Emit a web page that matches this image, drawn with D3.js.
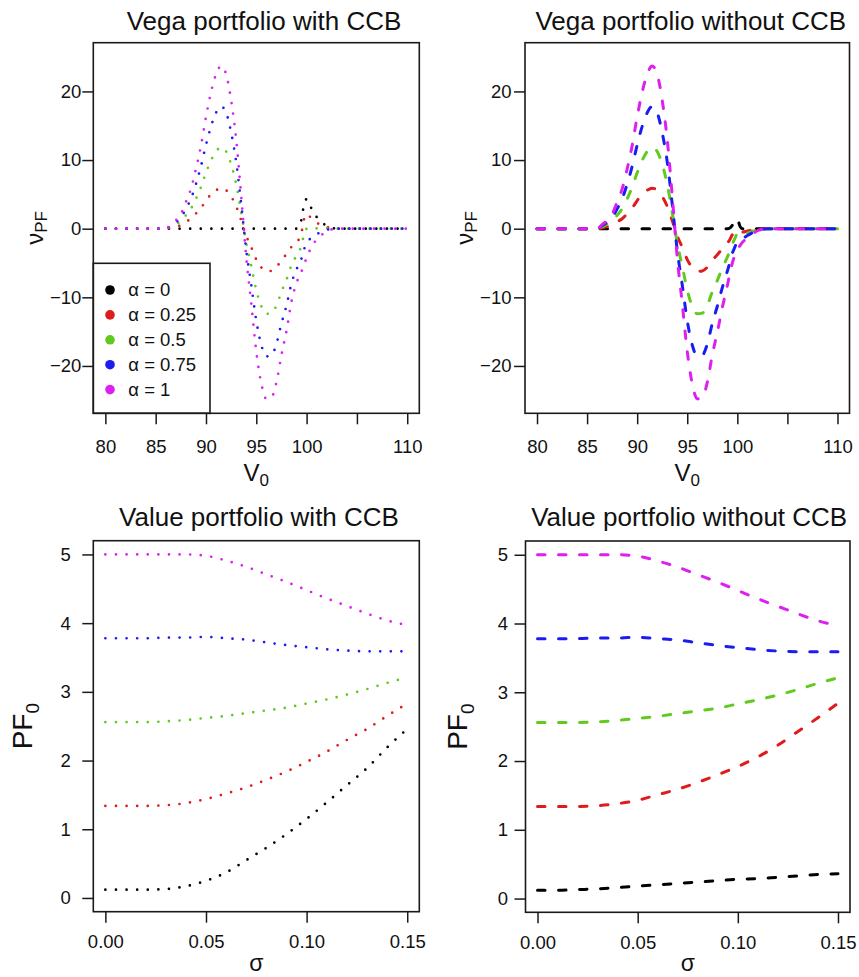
<!DOCTYPE html>
<html>
<head>
<meta charset="utf-8">
<script src="https://cdn.jsdelivr.net/npm/d3@7"></script>
<style>
body{margin:0;background:#fff}
svg{display:block;font-family:"Liberation Sans",Arial,Helvetica,sans-serif}
.box{fill:none;stroke:#1a1a1a;stroke-width:1.6}
.axis line{stroke:#1a1a1a;stroke-width:1.5}
.axis text{font-size:18.5px;fill:#111;font-family:"Liberation Sans",Arial,sans-serif}
.title{font-size:26px;fill:#111}
.label{fill:#111}
</style>
</head>
<body>
<svg id="fig"></svg>
<script>
// ---- data ----
var alphaLabels = ["α = 0","α = 0.25","α = 0.5","α = 0.75","α = 1"]
var seriesColors = ["#000000","#e01b1b","#62c91e","#1c1cf2","#dd1ff0"]

// top row: vega against V0
var vegaV = [80,85,86,86.5,87,87.5,88,88.5,89,89.5,90,90.5,91,91.5,92,92.5,93,93.5,94,94.5,95,95.5,96,96.5,97,97.5,98,98.5,99,
             99.25,99.5,99.75,100,100.25,100.5,101,101.5,102,102.5,103,104,110]

var vegaCCB_a0    = [0,0,0,0,0,0,0,0,0,0,0,0,0,0,0,0,0,0,0,0,0,0,0,0,0,0,0,0,0, 0.3,1.4,3.6,4.3,3.6,2.9,1.7,0.9,0.45,0.15,0,0,0]
var vegaCCB_a025  = [0,0,0,0.15,0.3,0.5,1.0,1.45,2.2,3.0,4.1,5.0,5.6,5.9,5.6,4.7,3.25,1.2,-1.05,-2.7,-4.5,-5.65,-6.2,-6.15,-5.6,-4.6,-3.7,-2.65,-2.0,
                     -1.5,-0.5,1.4,2.15,1.85,1.5,0.9,0.45,0.25,0.1,0,0,0]
var vegaCCB_a05   = [0,0,0,0.3,0.6,1.05,1.95,2.9,4.35,6.05,8.15,9.95,11.25,11.85,11.25,9.35,6.5,2.4,-2.1,-5.45,-8.95,-11.3,-12.4,-12.3,-11.2,-9.2,-7.45,-5.3,-3.95,
                     -3.35,-2.4,-0.8,0,0.1,0.15,0.05,0,0.05,0.03,0,0,0]
var vegaCCB_a075  = [0,0,0,0.45,0.9,1.6,2.9,4.35,6.5,9.1,12.2,14.9,16.9,17.8,16.9,14.0,9.75,3.6,-3.15,-8.2,-13.4,-16.95,-18.6,-18.45,-16.8,-13.8,-11.2,-7.95,-5.9,
                     -5.2,-4.3,-3.0,-2.15,-1.65,-1.2,-0.8,-0.45,-0.15,-0.04,0,0,0]
var vegaCCB_a1    = [0,0,0,0.6,1.2,2.1,3.9,5.8,8.7,12.1,16.3,19.9,22.5,23.7,22.5,18.7,13.0,4.8,-4.2,-10.9,-17.9,-22.6,-24.8,-24.6,-22.4,-18.4,-14.9,-10.6,-7.9,
                     -7.0,-6.2,-5.2,-4.3,-3.4,-2.6,-1.6,-0.9,-0.35,-0.1,0,0,0]

var vegaNoCCB_a0   = [0,0,0,0,0,0,0,0,0,0,0,0,0,0,0,0,0,0,0,0,0,0,0,0,0,0,0,0,0, 0.1,0.5,1.0,1.5,0.4,0,0,0,0,0,0,0,0]
var vegaNoCCB_a025 = [0,0,0,0.15,0.3,0.5,1.0,1.45,2.2,3.0,4.1,5.0,5.6,5.9,5.6,4.7,3.25,1.2,-1.05,-2.7,-4.5,-5.65,-6.2,-6.15,-5.6,-4.6,-3.8,-2.9,-2.1,
                      -1.6,-0.9,-0.6,-0.2,-0.5,-0.5,-0.35,-0.2,-0.08,-0.03,0,0,0]
var vegaNoCCB_a05  = [0,0,0,0.3,0.6,1.05,1.95,2.9,4.35,6.05,8.15,9.95,11.25,11.85,11.25,9.35,6.5,2.4,-2.1,-5.45,-8.95,-11.3,-12.4,-12.3,-11.2,-9.2,-7.55,-5.75,-4.15,
                      -3.25,-2.25,-1.45,-0.75,-1.05,-1.0,-0.68,-0.4,-0.15,-0.05,0,0,0]
var vegaNoCCB_a075 = [0,0,0,0.45,0.9,1.6,2.9,4.35,6.5,9.1,12.2,14.9,16.9,17.8,16.9,14.0,9.75,3.6,-3.15,-8.2,-13.4,-16.95,-18.6,-18.45,-16.8,-13.8,-11.3,-8.6,-6.2,
                      -4.95,-3.6,-2.7,-1.9,-1.8,-1.5,-1.0,-0.6,-0.23,-0.08,0,0,0]
var vegaNoCCB_a1   = [0,0,0,0.6,1.2,2.1,3.9,5.8,8.7,12.1,16.3,19.9,22.5,23.7,22.5,18.7,13.0,4.8,-4.2,-10.9,-17.9,-22.6,-24.8,-24.6,-22.4,-18.4,-15.1,-11.5,-8.3,
                      -6.6,-5.0,-3.9,-3.0,-2.5,-2.0,-1.35,-0.8,-0.3,-0.1,0,0,0]

// bottom row: portfolio value against sigma
var sigma = [0,0.01,0.02,0.03,0.04,0.05,0.06,0.07,0.08,0.09,0.10,0.11,0.12,0.13,0.14,0.15]

var valueCCB_a0   = [0.12,0.12,0.12,0.13,0.17,0.25,0.37,0.55,0.73,0.93,1.15,1.39,1.64,1.89,2.19,2.46]
var valueCCB_a025 = [1.34,1.34,1.34,1.35,1.38,1.44,1.52,1.61,1.72,1.84,1.98,2.13,2.30,2.46,2.65,2.83]
var valueCCB_a05  = [2.56,2.56,2.56,2.57,2.59,2.62,2.65,2.69,2.73,2.77,2.83,2.89,2.96,3.04,3.13,3.21]
var valueCCB_a075 = [3.78,3.78,3.78,3.79,3.79,3.80,3.78,3.76,3.72,3.68,3.65,3.62,3.60,3.59,3.59,3.59]
var valueCCB_a1   = [5.0,5.0,5.0,5.0,5.0,4.98,4.91,4.82,4.71,4.60,4.48,4.36,4.25,4.14,4.04,3.97]

var valueNoCCB_a0   = [0.12,0.12,0.13,0.14,0.16,0.18,0.20,0.22,0.24,0.26,0.28,0.29,0.31,0.33,0.35,0.36]
var valueNoCCB_a025 = [1.34,1.34,1.34,1.35,1.38,1.43,1.51,1.59,1.69,1.80,1.92,2.06,2.23,2.43,2.63,2.84]
var valueNoCCB_a05  = [2.56,2.56,2.56,2.57,2.59,2.62,2.65,2.69,2.73,2.77,2.83,2.89,2.96,3.04,3.13,3.21]
var valueNoCCB_a075 = [3.78,3.78,3.78,3.79,3.79,3.80,3.78,3.76,3.72,3.68,3.65,3.62,3.60,3.59,3.59,3.59]
var valueNoCCB_a1   = [5.0,5.0,5.0,5.0,5.0,4.98,4.91,4.82,4.71,4.60,4.48,4.36,4.25,4.14,4.04,3.97]

// ticks
var vegaXTicks = [80,85,90,95,100,105,110]
var vegaXTickLabels = ["80","85","90","95","100","","110"]
var vegaYTicks = [-20,-10,0,10,20]
var sigmaTicks = [0,0.05,0.10,0.15]
var sigmaTickLabels = ["0.00","0.05","0.10","0.15"]
var valueYTicks = [0,1,2,3,4,5]

var dotted = {width:2.7, dash:"0,10.6"}
var dashed = {width:3, dash:"7.5,13.5"}

var drawPanel = function(svg,p)
{
    var xScale = d3.scaleLinear()
        .domain(p.xDomain)
        .range([p.box.left,p.box.right])
    var yScale = d3.scaleLinear()
        .domain(p.yDomain)
        .range([p.box.bottom,p.box.top])

    var line = d3.line()
        .x(function(d){return xScale(d[0])})
        .y(function(d){return yScale(d[1])})
        .curve(d3.curveMonotoneX)

    var g = svg.append("g")

    g.selectAll("path.series")
    .data(p.series)
    .enter()
    .append("path")
    .attr("class","series")
    .attr("d",function(s)
         {
        return line(p.x.map(function(v,i){return [v,s[i]]}))
    })
    .attr("fill","none")
    .attr("stroke",function(s,i){return seriesColors[i]})
    .attr("stroke-width",p.style.width)
    .attr("stroke-dasharray",p.style.dash)
    .attr("stroke-linecap","round")

    g.append("rect")
    .attr("class","box")
    .attr("x",p.box.left)
    .attr("y",p.box.top)
    .attr("width",p.box.right-p.box.left)
    .attr("height",p.box.bottom-p.box.top)

    var xAxis = d3.axisBottom(xScale)
        .tickValues(p.xTicks)
        .tickFormat(function(d,i){return p.xTickLabels[i]})
        .tickSize(11)
        .tickSizeOuter(0)
    var xg = g.append("g")
    .attr("class","axis")
    .attr("transform","translate(0,"+p.box.bottom+")")
    .call(xAxis)
    xg.select(".domain").remove()
    xg.selectAll("text").attr("y",p.xTickTextY).attr("dy",null)

    var yAxis = d3.axisLeft(yScale)
        .tickValues(p.yTicks)
        .tickFormat(d3.format("d"))
        .tickSize(11)
        .tickSizeOuter(0)
    var yg = g.append("g")
    .attr("class","axis")
    .attr("transform","translate("+p.box.left+",0)")
    .call(yAxis)
    yg.select(".domain").remove()
    yg.selectAll("text").attr("x",-p.yTickGap)

    g.append("text")
    .attr("class","title")
    .attr("text-anchor","middle")
    .attr("x",p.titleX)
    .attr("y",p.titleY)
    .text(p.title)

    var xl = g.append("text")
    .attr("class","label")
    .attr("text-anchor","middle")
    .attr("x",(p.box.left+p.box.right)/2)
    .attr("y",p.xLabelY)
    xl.append("tspan").style("font-size",p.xLabel.size+"px").text(p.xLabel.main)
    if(p.xLabel.sub)
    {
        xl.append("tspan").style("font-size",p.xLabel.subSize+"px").attr("dy",p.xLabel.shift).text(p.xLabel.sub)
    }

    var yl = g.append("text")
    .attr("class","label")
    .attr("text-anchor","middle")
    .attr("transform","translate("+p.yLabelX+","+((p.box.top+p.box.bottom)/2)+") rotate(-90)")
    yl.append("tspan").style("font-size",p.yLabel.size+"px").text(p.yLabel.main)
    yl.append("tspan").style("font-size",p.yLabel.subSize+"px").attr("dy",p.yLabel.shift).text(p.yLabel.sub)
}

var drawLegend = function(svg)
{
    var legend = svg.append("g").classed("legend",true)
    legend.append("rect")
    .attr("class","box")
    .attr("x",93.3)
    .attr("y",263.3)
    .attr("width",210-93.3)
    .attr("height",413.3-263.3)

    var entries = legend.selectAll("g.entry")
    .data(alphaLabels)
    .enter()
    .append("g")
    .attr("class","entry")
    .attr("transform",function(d,i){return "translate(110,"+(290+i*24.9)+")"})

    entries.append("circle")
    .attr("r",4.8)
    .attr("fill",function(d,i){return seriesColors[i]})

    entries.append("text")
    .attr("x",18.3)
    .attr("dy","0.35em")
    .style("font-size","18.5px")
    .attr("fill","#111")
    .text(function(d){return d})
}

var initFigure = function()
{
    var svg = d3.select("#fig")
    .attr("width",859)
    .attr("height",977)

    var vegaYLabel = {main:"ν",sub:"PF",size:24,subSize:17,shift:4}
    var v0Label = {main:"V",sub:"0",size:24,subSize:17,shift:5}
    var pfLabel = {main:"PF",sub:"0",size:28,subSize:19,shift:7}
    var sigmaLabel = {main:"σ",size:23}

    drawPanel(svg,{
        title:"Vega portfolio with CCB",titleX:264,titleY:29.5,
        box:{left:93.3,right:419.3,top:42.7,bottom:413.3},
        xDomain:[78.8,111.2],yDomain:[-26.9,27.1],
        x:vegaV,series:[vegaCCB_a0,vegaCCB_a025,vegaCCB_a05,vegaCCB_a075,vegaCCB_a1],
        style:dotted,
        xTicks:vegaXTicks,xTickLabels:vegaXTickLabels,xTickTextY:40,
        yTicks:vegaYTicks,yTickGap:12,
        xLabel:v0Label,xLabelY:480.7,
        yLabel:vegaYLabel,yLabelX:43
    })
    drawPanel(svg,{
        title:"Vega portfolio without CCB",titleX:690.8,titleY:29.5,
        box:{left:525,right:849.5,top:42.7,bottom:413.3},
        xDomain:[78.8,111.2],yDomain:[-26.9,27.1],
        x:vegaV,series:[vegaNoCCB_a0,vegaNoCCB_a025,vegaNoCCB_a05,vegaNoCCB_a075,vegaNoCCB_a1],
        style:dashed,
        xTicks:vegaXTicks,xTickLabels:vegaXTickLabels,xTickTextY:40,
        yTicks:vegaYTicks,yTickGap:13.5,
        xLabel:v0Label,xLabelY:480.7,
        yLabel:vegaYLabel,yLabelX:473.3
    })
    drawPanel(svg,{
        title:"Value portfolio with CCB",titleX:259,titleY:526,
        box:{left:93.3,right:419.3,top:540.7,bottom:911.7},
        xDomain:[-0.006,0.156],yDomain:[-0.2,5.2],
        x:sigma,series:[valueCCB_a0,valueCCB_a025,valueCCB_a05,valueCCB_a075,valueCCB_a1],
        style:dotted,
        xTicks:sigmaTicks,xTickLabels:sigmaTickLabels,xTickTextY:36.6,
        yTicks:valueYTicks,yTickGap:22.6,
        xLabel:sigmaLabel,xLabelY:971,
        yLabel:pfLabel,yLabelX:32
    })
    drawPanel(svg,{
        title:"Value portfolio without CCB",titleX:689.2,titleY:526,
        box:{left:525.5,right:850,top:541,bottom:912.3},
        xDomain:[-0.006,0.156],yDomain:[-0.2,5.2],
        x:sigma,series:[valueNoCCB_a0,valueNoCCB_a025,valueNoCCB_a05,valueNoCCB_a075,valueNoCCB_a1],
        style:dashed,
        xTicks:sigmaTicks,xTickLabels:sigmaTickLabels,xTickTextY:36.6,
        yTicks:valueYTicks,yTickGap:17.5,
        xLabel:sigmaLabel,xLabelY:971,
        yLabel:pfLabel,yLabelX:467
    })
    drawLegend(svg)
}

initFigure()
</script>
</body>
</html>
